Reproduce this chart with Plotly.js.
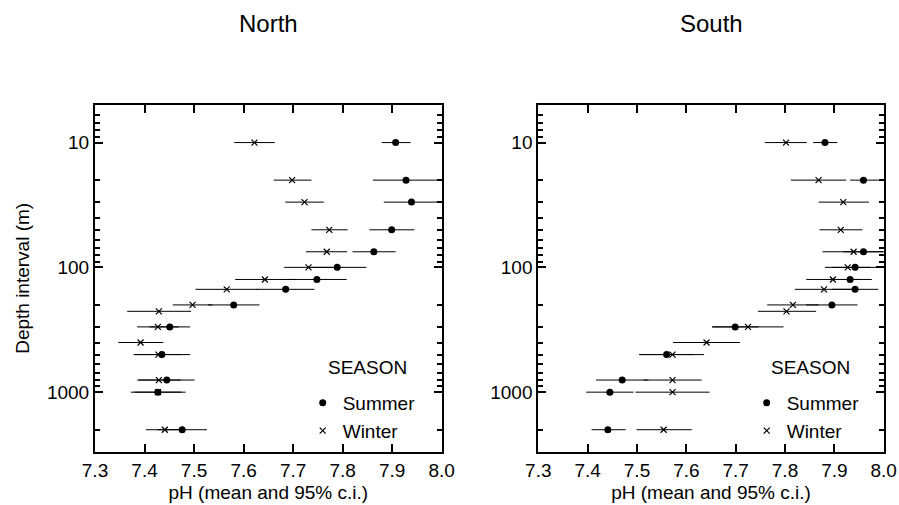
<!DOCTYPE html>
<html>
<head>
<meta charset="utf-8">
<script src="https://cdn.plot.ly/plotly-3.0.1.min.js"></script>
<style>html,body{margin:0;padding:0;background:#fff;}#chart{width:899px;height:505px;}</style>
</head>
<body>
<div id="chart"></div>
<script>
// ---- Data (depth in m, pH mean and 95% c.i. bounds) ----
var northSummerDepth = [10, 20, 30, 50, 75, 100, 125, 150, 200, 300, 500, 800, 1000, 2000];
var northSummerMean  = [7.907, 7.928, 7.939, 7.899, 7.863, 7.789, 7.748, 7.685, 7.580, 7.451, 7.435, 7.445, 7.427, 7.476];
var northSummerLo    = [7.879, 7.861, 7.883, 7.854, 7.820, 7.730, 7.688, 7.627, 7.528, 7.410, 7.378, 7.389, 7.372, 7.426];
var northSummerHi    = [7.937, 7.995, 7.995, 7.945, 7.907, 7.848, 7.808, 7.743, 7.632, 7.492, 7.492, 7.501, 7.483, 7.526];

var northWinterDepth = [10, 20, 30, 50, 75, 100, 125, 150, 200, 225, 300, 400, 500, 800, 1000, 2000];
var northWinterMean  = [7.622, 7.698, 7.723, 7.773, 7.768, 7.731, 7.643, 7.566, 7.497, 7.429, 7.427, 7.392, 7.428, 7.429, 7.427, 7.441];
var northWinterLo    = [7.581, 7.661, 7.684, 7.737, 7.726, 7.682, 7.583, 7.503, 7.457, 7.365, 7.385, 7.347, 7.380, 7.385, 7.380, 7.403];
var northWinterHi    = [7.663, 7.737, 7.762, 7.810, 7.809, 7.780, 7.703, 7.629, 7.537, 7.494, 7.469, 7.438, 7.476, 7.473, 7.474, 7.479];

var southSummerDepth = [10, 20, 75, 100, 125, 150, 200, 300, 500, 800, 1000, 2000];
var southSummerMean  = [7.881, 7.959, 7.959, 7.942, 7.932, 7.942, 7.895, 7.699, 7.560, 7.470, 7.445, 7.441];
var southSummerLo    = [7.857, 7.932, 7.918, 7.895, 7.888, 7.895, 7.843, 7.652, 7.504, 7.417, 7.397, 7.408];
var southSummerHi    = [7.906, 7.990, 8.000, 7.989, 7.976, 7.989, 7.947, 7.746, 7.616, 7.523, 7.493, 7.477];

var southWinterDepth = [10, 20, 30, 50, 75, 100, 125, 150, 200, 225, 300, 400, 500, 800, 1000, 2000];
var southWinterMean  = [7.802, 7.868, 7.918, 7.913, 7.939, 7.927, 7.897, 7.879, 7.816, 7.803, 7.725, 7.641, 7.572, 7.572, 7.572, 7.554];
var southWinterLo    = [7.759, 7.812, 7.868, 7.870, 7.876, 7.881, 7.843, 7.820, 7.764, 7.745, 7.653, 7.573, 7.508, 7.513, 7.497, 7.499];
var southWinterHi    = [7.844, 7.924, 7.970, 7.957, 8.002, 7.973, 7.951, 7.938, 7.868, 7.863, 7.797, 7.709, 7.636, 7.631, 7.647, 7.611];

var panelTitles = ['North', 'South'];
var seasonNames = ['Summer', 'Winter'];
var xTickVals = [7.3, 7.4, 7.5, 7.6, 7.7, 7.8, 7.9, 8.0];
var yTickVals = [10, 100, 1000];
var yMinorVals = [6, 7, 8, 9, 20, 30, 40, 50, 60, 70, 80, 90, 200, 300, 400, 500, 600, 700, 800, 900, 2000];

// ---- Build traces ----
var FONT = '"Liberation Sans", Arial, Helvetica, sans-serif';
function diff(a, b) { return a.map(function (v, i) { return v - b[i]; }); }
function mkTrace(name, depth, mean, lo, hi, xa, ya, leg) {
  var isSummer = (name === seasonNames[0]);
  return {
    type: 'scatter', mode: 'markers', name: name,
    x: mean, y: depth, xaxis: xa, yaxis: ya, legend: leg,
    marker: isSummer
      ? {symbol: 'circle', size: 7, color: '#000'}
      : {symbol: 'x-thin-open', size: 6, color: '#000', line: {color: '#000', width: 1.2}},
    error_x: {type: 'data', symmetric: false, array: diff(hi, mean), arrayminus: diff(mean, lo),
              width: 0, thickness: 1, color: '#000'},
    hoverinfo: 'x+y+name'
  };
}
var data = [
  mkTrace(seasonNames[0], northSummerDepth, northSummerMean, northSummerLo, northSummerHi, 'x', 'y', 'legend'),
  mkTrace(seasonNames[1], northWinterDepth, northWinterMean, northWinterLo, northWinterHi, 'x', 'y', 'legend'),
  mkTrace(seasonNames[0], southSummerDepth, southSummerMean, southSummerLo, southSummerHi, 'x2', 'y2', 'legend2'),
  mkTrace(seasonNames[1], southWinterDepth, southWinterMean, southWinterLo, southWinterHi, 'x2', 'y2', 'legend2')
];

var W = 899, H = 505;
function xAxis(domain, anchor) {
  return {
    domain: domain, anchor: anchor, range: [7.3, 8.0], tickmode: 'array', tickvals: xTickVals, tickformat: '.1f',
    ticks: 'inside', ticklen: 8, tickwidth: 2, tickcolor: '#000',
    showline: true, linecolor: '#000', linewidth: 2, mirror: 'allticks',
    showgrid: false, zeroline: false,
    tickfont: {family: FONT, size: 19, color: '#000'},
    title: {text: 'pH (mean and 95% c.i.)', font: {family: FONT, size: 19, color: '#000'}, standoff: 6}
  };
}
function yAxis(anchor, withTitle) {
  var ax = {
    anchor: anchor, domain: [(H - 451.7) / H, (H - 105) / H], type: 'log',
    range: [Math.log10(3000), Math.log10(5)],
    tickmode: 'array', tickvals: yTickVals,
    ticks: 'inside', ticklen: 8, tickwidth: 2, tickcolor: '#000',
    minor: {tickmode: 'array', tickvals: yMinorVals, ticks: 'inside', ticklen: 5, tickwidth: 2, tickcolor: '#000', showgrid: false},
    showline: true, linecolor: '#000', linewidth: 2, mirror: 'allticks',
    showgrid: false, zeroline: false,
    tickfont: {family: FONT, size: 19, color: '#000'}
  };
  if (withTitle) ax.title = {text: 'Depth interval (m)', font: {family: FONT, size: 19, color: '#000'}, standoff: 12};
  return ax;
}

var legendBase = {
  bgcolor: 'rgba(0,0,0,0)', borderwidth: 0, xanchor: 'left', yanchor: 'top',
  font: {family: FONT, size: 19, color: '#000'}, tracegroupgap: 0
};

var layout = {
  width: W, height: H,
  margin: {l: 0, r: 0, t: 0, b: 0, pad: 0},
  paper_bgcolor: '#fff', plot_bgcolor: '#fff',
  font: {family: FONT, size: 19, color: '#000'},
  xaxis: xAxis([95 / W, 441.7 / W], 'y'),
  yaxis: yAxis('x', true),
  xaxis2: xAxis([538.3 / W, 883.7 / W], 'y2'),
  yaxis2: yAxis('x2', false),
  legend: Object.assign({}, legendBase, {x: 302.7 / W, y: 1 - 384 / H}),
  legend2: Object.assign({}, legendBase, {x: 746.7 / W, y: 1 - 384 / H}),
  annotations: [
    {text: panelTitles[0], xref: 'paper', yref: 'paper', x: 268.3 / W, y: 1 - 23 / H, showarrow: false,
     xanchor: 'center', yanchor: 'middle', font: {family: FONT, size: 24, color: '#000'}},
    {text: panelTitles[1], xref: 'paper', yref: 'paper', x: 711 / W, y: 1 - 23 / H, showarrow: false,
     xanchor: 'center', yanchor: 'middle', font: {family: FONT, size: 24, color: '#000'}},
    {text: 'SEASON', xref: 'paper', yref: 'paper', x: 367 / W, y: 1 - 367 / H, showarrow: false,
     xanchor: 'center', yanchor: 'middle', font: {family: FONT, size: 19, color: '#000'}},
    {text: 'SEASON', xref: 'paper', yref: 'paper', x: 810 / W, y: 1 - 367 / H, showarrow: false,
     xanchor: 'center', yanchor: 'middle', font: {family: FONT, size: 19, color: '#000'}}
  ],
  showlegend: true
};

Plotly.newPlot('chart', data, layout, {staticPlot: true, displayModeBar: false});
</script>
</body>
</html>
